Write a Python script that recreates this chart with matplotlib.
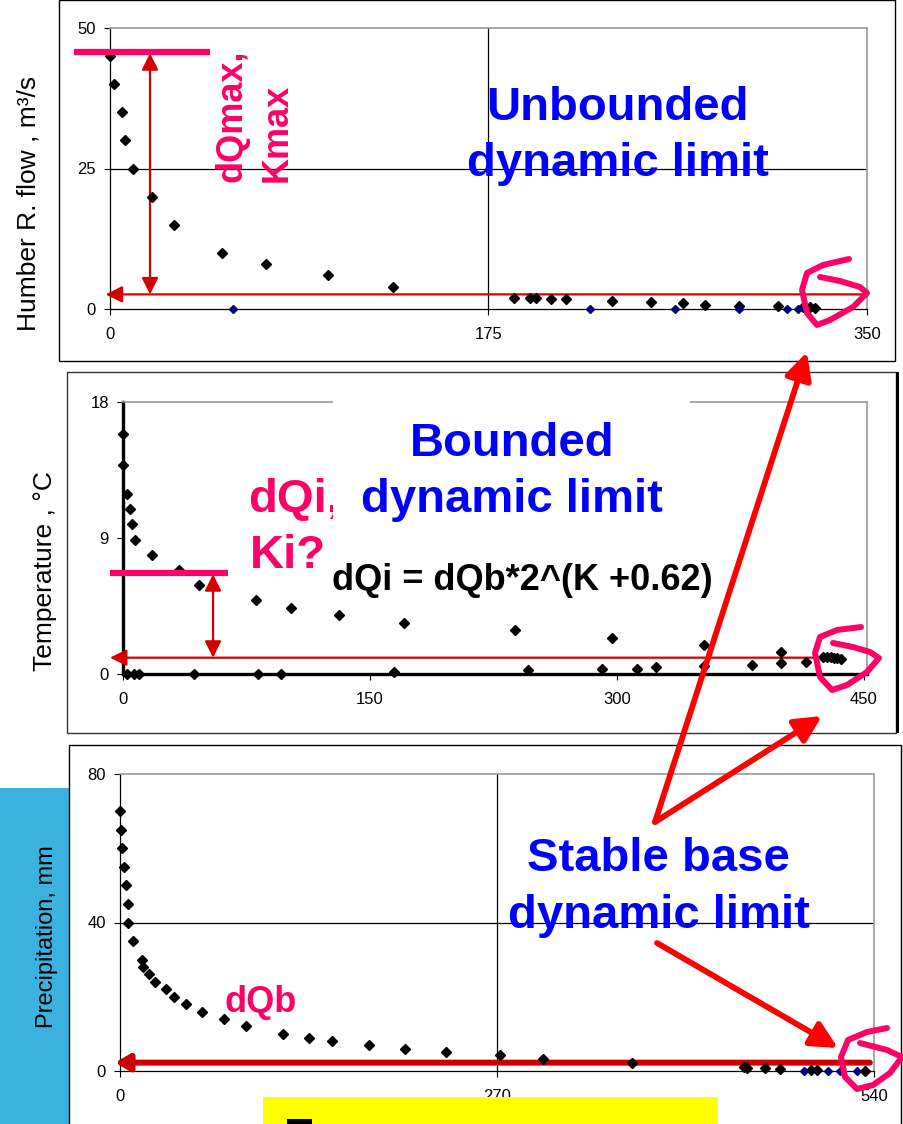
import matplotlib
matplotlib.use('Agg')
import matplotlib.pyplot as plt
from matplotlib.patches import Rectangle, FancyArrowPatch
from matplotlib.lines import Line2D

W, H = 904, 1124
plt.rcParams['font.family'] = ['Liberation Sans', 'DejaVu Sans']

PINK = '#FF0066'
BLUE = '#0000FF'
RED = '#FF0000'
DKRED = '#D40000'
NAVY = '#000080'
GRAY = '#999999'

# Humber R. flow (m3/s)
flow_x = [0, 1.8, 5.7, 6.9, 10.8, 19.6, 29.7, 52, 72, 101, 131, 187, 194, 197,
          204, 211, 232, 250, 265, 275, 291, 309, 320.5, 323.5, 326]
flow_y = [45, 40, 35, 30, 25, 20, 15, 10, 8, 6, 4, 1.9, 1.9, 1.9,
          1.7, 1.7, 1.4, 1.2, 1.0, 0.8, 0.6, 0.5, 0.3, 0.3, 0.1]
flow_zero_x = [57, 222, 261, 291, 313, 318]

# Temperature (C)
temp_x = [0, 0.2, 2.6, 4.3, 5.3, 7.3, 17.5, 34, 46, 81, 102, 131, 171, 238,
          297, 353, 400, 425, 428, 430, 432, 434, 436]
temp_y = [15.9, 13.8, 11.9, 10.9, 9.9, 8.9, 7.9, 6.9, 5.9, 4.9, 4.4, 3.9, 3.4, 2.9,
          2.4, 1.9, 1.45, 1.1, 1.15, 1.1, 1.05, 1.05, 1.0]
temp_low_x = [2.6, 6.7, 10, 43, 82, 96, 164.5, 246, 291, 312.5, 324, 353, 382, 400, 415]
temp_low_y = [0, 0, 0, 0, 0, 0, 0.1, 0.26, 0.33, 0.33, 0.44, 0.53, 0.6, 0.7, 0.77]

# Precipitation (mm)
precip_x = [0, 0.7, 1.7, 2.9, 4.5, 5.5, 5.7, 9.5, 15.5, 16.7, 20.5, 25.3, 33.2, 38.9,
            47.3, 58.7, 74.5, 90.3, 116.8, 135.6, 152, 178.6, 204.4, 233.5, 272, 303,
            367, 447, 449, 462, 473, 495, 499.5, 533.7]
precip_y = [70, 65, 60, 55, 50, 45, 40, 35, 30, 28, 26, 24, 22, 20,
            18, 16, 14, 12, 10, 9, 8, 7, 6, 5, 4.3, 3.2,
            2.1, 1.2, 0.9, 0.7, 0.5, 0.3, 0.3, 0.1]
precip_zero_x = [490, 507, 516, 528]

# base lines / limits drawn on each panel
flow_base, flow_top = 2.6, 45.5
temp_base, temp_top = 1.08, 6.6
precip_base = 2.25

# hand-drawn pink loops (figure pixels, from top-left)
loops = [
    [(849, 259), (823, 265), (807, 273), (802, 290), (807, 313), (817, 325), (830, 320),
     (853, 307), (867, 293), (860, 287), (840, 281), (820, 277)],
    [(861, 627), (837, 630), (820, 637), (815, 653), (820, 677), (832, 690), (847, 685),
     (867, 672), (879, 658), (870, 652), (853, 647), (833, 643)],
    [(887, 1028), (867, 1032), (848, 1040), (841, 1057), (845, 1077), (857, 1089), (873, 1085),
     (890, 1073), (902, 1057), (887, 1050), (860, 1043)],
]


def box(x0, y0, x1, y1):
    return [x0 / W, 1 - y1 / H, (x1 - x0) / W, (y1 - y0) / H]


def fx(x):
    return x / W


def fy(y):
    return 1 - y / H


fig = plt.figure(figsize=(W / 100, H / 100), dpi=100)


def rect(x0, y0, x1, y1, z=1, **kw):
    r = Rectangle((fx(x0), fy(y1)), (x1 - x0) / W, (y1 - y0) / H,
                  transform=fig.transFigure, zorder=z, **kw)
    fig.add_artist(r)


# background pieces
rect(0, 788, 69, 1124, z=-2, facecolor='#3AB1DF', edgecolor='none')
rect(59, 0, 895, 361, z=-1, facecolor='none', edgecolor='black', lw=1)
rect(67, 372, 896, 733, z=-1, facecolor='none', edgecolor='#333333', lw=1)
rect(896, 372, 899, 733, z=-1, facecolor='black', edgecolor='none')
rect(69, 745, 901, 1130, z=-1, facecolor='none', edgecolor='black', lw=1)


def setup(ax, xmax, ymax, xt, yt, thick=False):
    ax.set_xlim(0, xmax)
    ax.set_ylim(0, ymax)
    ax.set_xticks(xt)
    ax.set_yticks(yt)
    ax.patch.set_alpha(0)
    for s in ['top', 'right']:
        ax.spines[s].set_color(GRAY)
        ax.spines[s].set_linewidth(1.2)
    for s in ['left', 'bottom']:
        ax.spines[s].set_color('black')
        ax.spines[s].set_linewidth(2.4 if thick else 0.9)
    ax.tick_params(direction='out', length=4, width=0.8, labelsize=12, pad=6)
    ax.tick_params(axis='x', pad=9)


# ---- panel 1: Humber R. flow
ax1 = fig.add_axes(box(110, 28, 867, 309))
setup(ax1, 350, 50, [0, 175, 350], [0, 25, 50])
ax1.axhline(25, color='black', lw=0.9, zorder=1)
ax1.axvline(175, color='black', lw=0.9, zorder=1)
ax1.plot(flow_x, flow_y, 'D', color='black', ms=5.5, clip_on=False, zorder=4)
ax1.plot(flow_zero_x, [0] * len(flow_zero_x), 'D', color=NAVY, ms=4.3, clip_on=False, zorder=4)
ax1.annotate('', xy=(-2, flow_base), xytext=(350, flow_base), annotation_clip=False,
             arrowprops=dict(arrowstyle='-|>,head_length=0.5,head_width=0.25', color=DKRED,
                             lw=1.6, shrinkA=0, shrinkB=0, mutation_scale=20))
ax1.annotate('', xy=(18.5, flow_top), xytext=(18.5, flow_base), annotation_clip=False,
             arrowprops=dict(arrowstyle='<|-|>,head_length=0.5,head_width=0.25', color=DKRED,
                             lw=1.6, shrinkA=0, shrinkB=0, mutation_scale=20))
ax1.plot([-16.6, 46.2], [45.7, 45.7], color=PINK, lw=4.5, clip_on=False, zorder=5,
         solid_capstyle='butt')

# ---- panel 2: Temperature
ax2 = fig.add_axes(box(123, 402, 867, 674))
setup(ax2, 452, 18, [0, 150, 300, 450], [0, 9, 18], thick=True)
ax2.plot(temp_x, temp_y, 'D', color='black', ms=5.5, clip_on=False, zorder=4)
ax2.plot(temp_low_x, temp_low_y, 'D', color='black', ms=5.5, clip_on=False, zorder=4)
ax2.annotate('', xy=(-7.9, temp_base), xytext=(425, temp_base), annotation_clip=False,
             arrowprops=dict(arrowstyle='-|>,head_length=0.5,head_width=0.25', color=DKRED,
                             lw=1.6, shrinkA=0, shrinkB=0, mutation_scale=20))
ax2.annotate('', xy=(54.7, temp_top), xytext=(54.7, temp_base), annotation_clip=False,
             arrowprops=dict(arrowstyle='<|-|>,head_length=0.5,head_width=0.25', color=DKRED,
                             lw=1.6, shrinkA=0, shrinkB=0, mutation_scale=20))
ax2.plot([-7.9, 63.6], [6.7, 6.7], color=PINK, lw=4.5, clip_on=False, zorder=5,
         solid_capstyle='butt')

# ---- panel 3: Precipitation
ax3 = fig.add_axes(box(120, 774, 874, 1071))
setup(ax3, 540, 80, [0, 270, 540], [0, 40, 80])
ax3.axhline(40, color='black', lw=0.9, zorder=1)
ax3.axvline(270, color='black', lw=0.9, zorder=1)
ax3.plot(precip_x, precip_y, 'D', color='black', ms=5.5, clip_on=False, zorder=4)
ax3.plot(precip_zero_x, [0] * len(precip_zero_x), 'D', color=NAVY, ms=4.3, clip_on=False, zorder=4)
ax3.annotate('', xy=(-3.6, precip_base), xytext=(537, precip_base), annotation_clip=False,
             arrowprops=dict(arrowstyle='-|>,head_length=0.6,head_width=0.35', color='#CC0000',
                             lw=4.3, shrinkA=0, shrinkB=0, mutation_scale=14))

# axis titles
fig.text(fx(36), fy(203), 'Humber R. flow , m³/s', rotation=90, rotation_mode='anchor',
         ha='center', va='baseline', fontsize=19)
fig.text(fx(51.7), fy(571), 'Temperature , °C', rotation=90, rotation_mode='anchor',
         ha='center', va='baseline', fontsize=19)
fig.text(fx(52.7), fy(937), 'Precipitation, mm', rotation=90, rotation_mode='anchor',
         ha='center', va='baseline', fontsize=17)

# labels
fig.text(fx(241.7), fy(181.7), 'dQmax,', rotation=90, rotation_mode='anchor',
         ha='left', va='baseline', fontsize=26, fontweight='bold', color=PINK)
fig.text(fx(286.7), fy(181.7), 'Kmax', rotation=90, rotation_mode='anchor',
         ha='left', va='baseline', fontsize=26, fontweight='bold', color=PINK)
fig.text(fx(617.5), fy(120), 'Unbounded', ha='center', va='baseline', fontsize=34,
         fontweight='bold', color=BLUE)
fig.text(fx(617.5), fy(176), 'dynamic limit', ha='center', va='baseline', fontsize=34,
         fontweight='bold', color=BLUE)

fig.text(fx(248), fy(511.7), 'dQi,', ha='left', va='baseline', fontsize=34,
         fontweight='bold', color=PINK, zorder=0.5)
rect(333, 396, 690, 525, z=1, facecolor='white', edgecolor='none')
fig.text(fx(250), fy(568), 'Ki?', ha='left', va='baseline', fontsize=34,
         fontweight='bold', color=PINK)
fig.text(fx(512), fy(456), 'Bounded', ha='center', va='baseline', fontsize=34,
         fontweight='bold', color=BLUE)
fig.text(fx(512), fy(512), 'dynamic limit', ha='center', va='baseline', fontsize=34,
         fontweight='bold', color=BLUE)
fig.text(fx(332), fy(590), 'dQi = dQb*2^(K +0.62)', ha='left', va='baseline', fontsize=26,
         fontweight='bold', color='black')

fig.text(fx(225), fy(1011.7), 'dQb', ha='left', va='baseline', fontsize=26,
         fontweight='bold', color=PINK)
fig.text(fx(658.5), fy(871), 'Stable base', ha='center', va='baseline', fontsize=34,
         fontweight='bold', color=BLUE)
fig.text(fx(658.5), fy(928), 'dynamic limit', ha='center', va='baseline', fontsize=34,
         fontweight='bold', color=BLUE)

# big red pointers
for (x0, y0), (x1, y1) in [((655, 822), (807, 352)), ((655, 822), (822, 716)),
                           ((657, 943), (838, 1048))]:
    fig.add_artist(FancyArrowPatch((fx(x0), fy(y0)), (fx(x1), fy(y1)),
                                   transform=fig.transFigure, color=RED, lw=4.2,
                                   arrowstyle='-|>,head_length=0.8,head_width=0.4',
                                   mutation_scale=20, shrinkA=0, shrinkB=0, zorder=6))

# pink loops
for pts in loops:
    xs = [fx(p[0]) for p in pts]
    ys = [fy(p[1]) for p in pts]
    fig.add_artist(Line2D(xs, ys, transform=fig.transFigure, color=PINK, lw=4.3,
                          solid_joinstyle='round', solid_capstyle='round', zorder=6))

# yellow box at the bottom
rect(263, 1097, 718, 1130, z=2, facecolor='#FFFF00', edgecolor='none')
rect(287, 1119, 312, 1130, z=2, facecolor='black', edgecolor='none')

fig.savefig('out.png', dpi=100)
